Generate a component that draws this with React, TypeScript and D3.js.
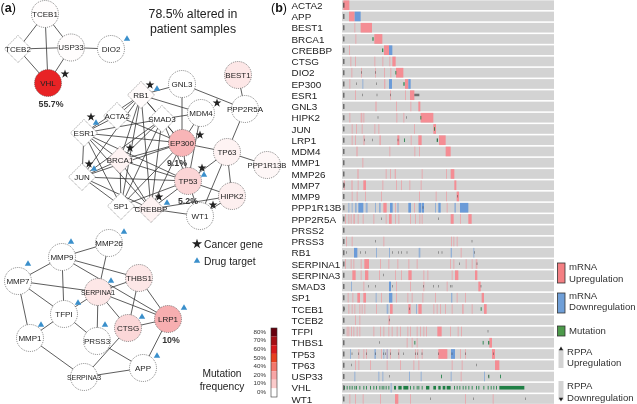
import * as d3 from "d3";
import { FC } from "react";

const WIDTH = 637;
const HEIGHT = 404;
const FONT = "'Liberation Sans', Arial, sans-serif";

// oncoprint
const genes = [
  "ACTA2", "APP", "BEST1", "BRCA1", "CREBBP", "CTSG", "DIO2", "EP300", "ESR1",
  "GNL3", "HIPK2", "JUN", "LRP1", "MDM4", "MMP1", "MMP26", "MMP7", "MMP9",
  "PPP1R13B", "PPP2R5A", "PRSS2", "PRSS3", "RB1", "SERPINA1", "SERPINA3",
  "SMAD3", "SP1", "TCEB1", "TCEB2", "TFPI", "THBS1", "TP53", "TP63", "USP33",
  "VHL", "WT1",
];

// sample positions: a number is a single sample, a pair is a run of samples
type Marks = Record<string, (number | [number, number])[]>;

const mrnaUp: Marks = {
  ACTA2: [[70, 88]],
  APP: [[87, 104]],
  BEST1: [103, [122, 156]],
  BRCA1: [106, [163, 187]],
  CREBBP: [[87, 90], [192, 207]],
  CTSG: [91, 105, 163, 187, 208, [217, 227]],
  DIO2: [94, 123, 165, 192, 211, [228, 250]],
  EP300: [88, [192, 196], [255, 265]],
  ESR1: [105, 210, 255, [270, 283]],
  GNL3: [[166, 170], 228, 271, [295, 301]],
  HIPK2: [88, [122, 127], 130, 229, 250, [302, 340]],
  JUN: [95, 108, 125, 163, 175, 282, [340, 348]],
  LRP1: [95, 105, [130, 134], [178, 183], [232, 238], 272, [295, 305], [357, 377]],
  MDM4: [[109, 113], 208, 283, 297, [377, 392]],
  MMP1: [127],
  MMP26: [[112, 116], 197, 210, [224, 228], 305, 378, [392, 403]],
  MMP7: [[71, 75], [94, 98], 113, [130, 138], 187, 228, 243, 268, 302, [403, 409]],
  MMP9: [95, 110, 135, 183, 297, 347, 378, [410, 417]],
  PPP1R13B: [[190, 200], 225, 282, 380],
  PPP2R5A: [75, 85, 92, [100, 105], 113, 128, 160, 197, [207, 215], 225, 235, 270, 285, 298, 305, [392, 401], 420, [445, 455]],
  PRSS3: [78, 95, 190, 393, 400, 410],
  RB1: [422],
  SERPINA1: [75, 92, 100, 122, [133, 147], 180, 205, 232, 265, 290, 390, 400, 437, 455, [467, 472]],
  SERPINA3: [[97, 107], 122, [135, 145], 177, 225, 243, [265, 275], 310, 322, 395, [405, 415], [465, 472]],
  SMAD3: [130, 228, 270, 310, 380, [475, 482]],
  SP1: [83, 97, [112, 120], [130, 138], 183, 228, 262, 275, 307, 345, 410, 435, [485, 492]],
  TCEB1: [85, 95, 103, 118, 125, 133, 168, [210, 218], [265, 272], [295, 305], 340, 350, 360, 375, 395, [426, 431], 455, [492, 500]],
  TCEB2: [105, 118, [205, 210]],
  TFPI: [80, 85, 93, 100, 110, 118, 160, 180, 190, 205, 215, 230, 240, 262, 270, 290, 300, 310, 318, [352, 365], 390, 413, 423],
  THBS1: [260, 275, 290, [508, 516]],
  TP53: [115, 130, 138, 183, 200, 210, 235, 285, 292, 305, [355, 382], 420, 435, [516, 525]],
  TP63: [105, 115, 150, 200, 240, 280, 295, 395, 425, [525, 538]],
  USP33: [422],
  WT1: [88, 105, 128, 180, [225, 235], 270, 435, 518],
};

const mrnaDown: Marks = {
  APP: [[104, 122]],
  CREBBP: [[207, 217]],
  EP300: [127, [207, 216], [265, 272]],
  PPP1R13B: [85, 95, [105, 110], [115, 130], [137, 143], 165, [177, 182], [210, 218], [232, 236], [265, 273], [296, 303], [305, 312], 345, [355, 362], [403, 408], [420, 445]],
  RB1: [[102, 112], 168, 207, [296, 301], [392, 396], 460],
  SMAD3: [93, [207, 213]],
  SP1: [167, [207, 217], [393, 397]],
  TCEB1: [[200, 205], 288],
  TP53: [90, [163, 168], 190, 200, [393, 405]],
  USP33: [103, 175, 187, 267, 302, 392, 492],
  VHL: [212],
};

const mutation: Marks = {
  BRCA1: [[157, 161]],
  CREBBP: [[186, 190]],
  DIO2: [226],
  EP300: [[250, 254]],
  HIPK2: [301],
  JUN: [342],
  LRP1: [252, [350, 354]],
  TCEB1: [482],
  THBS1: [283, 488, [504, 508]],
  USP33: [363, 505, 540],
  VHL: [
    72, 80, 88, 95, 103, 108, 118, 130, 138, 150, 160, 168, 178, 185, 190, 197,
    205, [222, 228], [235, 245], [250, 265], 270, 280, 290, 295, 305, [318, 328],
    [340, 348], [355, 362], [368, 376], [380, 392], 402, 410, 418, 428, 436, 445,
    455, 468, 475, 490, 503, 512, 520, 528, [538, 613],
  ],
};

const rppa: Marks = {
  DIO2: [123, 165],
  EP300: [109, 168],
  ESR1: [127, 170, 210, [283, 298]],
  HIPK2: [173, 258],
  LRP1: [132, 157, 233, 352],
  MMP7: [72],
  MMP9: [412],
  PPP1R13B: [308],
  PPP2R5A: [183, 355],
  PRSS3: [165, 455],
  RB1: [78, 120, 135, 217, 235, 243, 260, 355, 365, 462],
  SERPINA1: [418, 470],
  SERPINA3: [190],
  SMAD3: [145, 165, 217, 310, 340, 355, 390, 395, 482],
  TCEB1: [72, 268],
  TCEB2: [207],
  TFPI: [503],
  THBS1: [177],
  TP53: [95, 115, 138, 165, 190, 196, 210, 235, 250, 285, 292, 305, 355, 395, 435, 520],
  TP63: [93, 468],
  USP33: [208, 505],
  WT1: [330, 460, 615],
};

const sampleDomain: [number, number] = [66, 702];
const leadSample = 70;

// network
const mutationFreq: Record<string, number> = {
  VHL: 55.7, EP300: 9.1, TP53: 5.2, LRP1: 10, BEST1: 3, TP63: 1.5, PPP1R13B: 1,
  HIPK2: 2, BRCA1: 1.5, CREBBP: 1.5, THBS1: 3, SERPINA1: 3, CTSG: 5,
  TCEB1: 0.2, USP33: 0.2, RB1: 0.5,
};

const diamondGenes = ["TCEB2", "RB1", "ACTA2", "SMAD3", "ESR1", "BRCA1", "JUN", "SP1", "CREBBP"];

const nodeLayout: Record<string, [number, number]> = {
  TCEB1: [45, 14], TCEB2: [18, 49], USP33: [71, 47.5], DIO2: [111, 49], VHL: [48, 83],
  BEST1: [238, 75], GNL3: [182, 84], RB1: [141, 95], PPP2R5A: [245, 109], MDM4: [201, 113],
  ACTA2: [117, 116], SMAD3: [162, 119], ESR1: [84, 133], EP300: [182, 143], TP63: [227, 152],
  PPP1R13B: [267, 165], BRCA1: [120, 160], JUN: [82, 177], TP53: [188, 181], HIPK2: [232, 196],
  SP1: [121, 206], CREBBP: [151, 209], WT1: [200, 216],
  MMP26: [109, 243], MMP9: [62, 257], MMP7: [18, 281], THBS1: [139, 278], SERPINA1: [98, 292],
  TFPI: [64, 314], LRP1: [168, 319], CTSG: [128, 328], MMP1: [30, 338], PRSS3: [97, 341],
  APP: [143, 368], SERPINA3: [84, 377],
};

const edges: [string, string][] = [
  ["TCEB1", "TCEB2"], ["TCEB1", "USP33"], ["TCEB1", "VHL"], ["TCEB2", "USP33"], ["TCEB2", "VHL"],
  ["USP33", "VHL"], ["USP33", "DIO2"],
  ["BEST1", "PPP2R5A"], ["GNL3", "RB1"], ["GNL3", "PPP2R5A"], ["GNL3", "EP300"], ["RB1", "MDM4"],
  ["RB1", "SMAD3"], ["RB1", "ESR1"], ["RB1", "BRCA1"], ["RB1", "EP300"], ["RB1", "JUN"], ["RB1", "SP1"],
  ["RB1", "CREBBP"], ["MDM4", "SMAD3"], ["MDM4", "EP300"], ["MDM4", "TP53"], ["PPP2R5A", "TP63"],
  ["ACTA2", "ESR1"], ["ACTA2", "EP300"], ["ACTA2", "RB1"], ["SMAD3", "ESR1"], ["SMAD3", "JUN"], ["SMAD3", "SP1"],
  ["SMAD3", "EP300"], ["SMAD3", "TP53"], ["SMAD3", "BRCA1"], ["SMAD3", "CREBBP"], ["ESR1", "EP300"],
  ["ESR1", "TP53"], ["ESR1", "JUN"], ["ESR1", "BRCA1"], ["ESR1", "SP1"], ["ESR1", "CREBBP"],
  ["EP300", "TP63"], ["EP300", "TP53"], ["EP300", "BRCA1"], ["EP300", "JUN"], ["EP300", "SP1"],
  ["EP300", "CREBBP"], ["TP63", "TP53"], ["TP63", "PPP1R13B"], ["TP63", "HIPK2"], ["TP63", "WT1"],
  ["BRCA1", "JUN"], ["BRCA1", "SP1"], ["BRCA1", "CREBBP"], ["BRCA1", "TP53"], ["JUN", "TP53"],
  ["JUN", "SP1"], ["JUN", "CREBBP"], ["TP53", "HIPK2"], ["TP53", "SP1"], ["TP53", "CREBBP"],
  ["TP53", "WT1"], ["HIPK2", "CREBBP"], ["HIPK2", "WT1"], ["CREBBP", "WT1"], ["SP1", "CREBBP"],
  ["MMP26", "MMP9"], ["MMP26", "SERPINA1"], ["MMP9", "MMP7"], ["MMP9", "TFPI"], ["MMP9", "THBS1"],
  ["MMP9", "LRP1"], ["MMP7", "SERPINA1"], ["MMP7", "TFPI"], ["MMP7", "MMP1"], ["THBS1", "SERPINA1"],
  ["THBS1", "CTSG"], ["THBS1", "LRP1"], ["SERPINA1", "TFPI"], ["SERPINA1", "PRSS3"], ["SERPINA1", "CTSG"],
  ["SERPINA1", "LRP1"], ["TFPI", "MMP1"], ["TFPI", "PRSS3"], ["CTSG", "LRP1"], ["CTSG", "SERPINA3"],
  ["LRP1", "APP"], ["MMP1", "SERPINA3"], ["PRSS3", "APP"], ["SERPINA3", "APP"],
];

const cancerStars: [number, number][] = [
  [65, 74], [150, 85], [217, 103], [91, 117], [200, 135], [130, 148], [89, 164], [202, 168], [159, 197], [213, 205],
];
const drugTriangles: [number, number][] = [
  [127, 39], [157, 89], [96, 123], [94, 169], [204, 175], [167, 203], [124, 232], [71, 242], [28, 264],
  [111, 281], [78, 303], [41, 325], [105, 325], [142, 317], [184, 308], [157, 356],
];
const freqLabels: [string, number, number][] = [
  ["55.7%", 51, 104], ["9.1%", 177, 163], ["5.2%", 188, 201], ["10%", 171, 340],
];

const colorbarLabels = ["80%", "70%", "60%", "50%", "40%", "20%", "10%", "0%"];
const colorbarBands = ["#67000d", "#a50f15", "#d7191c", "#e8401f", "#f4776b", "#f8a5a5", "#fbcaca", "#ffffff"];

const nodeColor = d3
  .scaleLinear<string>()
  .domain([0, 10, 50, 60, 80])
  .range(["#ffffff", "#f7aeb0", "#ee2e2a", "#e41a22", "#67000d"]);

const diamondPath = d3.symbol(d3.symbolDiamond2, 465)() as string;
const starPath = d3.symbol(d3.symbolStar, 24)() as string;
const trianglePath = d3.symbol(d3.symbolTriangle, 18)() as string;

const xScale = d3.scaleLinear().domain(sampleDomain).range([342, 554]);
const yBand = d3.scaleBand<string>().domain(genes).range([-1.2, 405.4]).padding(0.14);

const COLORS = { up: "#f48d94", down: "#6b9bd8", mut: "#1f7f45", dark: "#3a3a3a", bar: "#d3d3d3" };

const GeneRow: FC<{ gene: string }> = ({ gene }) => {
  const y = yBand(gene) as number;
  const h = yBand.bandwidth();
  const drawMarks = (marks: Marks, fill: string, kind: string, thinOpacity: number, markH = h) =>
    (marks[gene] || []).map((m, i) => {
      const [a, b] = Array.isArray(m) ? m : [m, null];
      const x0 = xScale(a);
      const w = b === null ? 1 : xScale(b) - x0;
      const narrow = b === null || w < 2;
      return (
        <rect
          key={kind + i}
          x={x0}
          y={y + (h - markH) / 2}
          width={w}
          height={markH}
          fill={fill}
          opacity={narrow ? thinOpacity : 1}
        />
      );
    });
  return (
    <g>
      <text x={291.5} y={y + h / 2 + 3.6} fontSize={9.9} fill="#222">
        {gene}
      </text>
      <rect x={xScale(sampleDomain[0])} y={y} width={xScale(sampleDomain[1]) - xScale(sampleDomain[0])} height={h} fill={COLORS.bar} />
      {drawMarks(mrnaUp, COLORS.up, "u", 0.55)}
      {drawMarks(mrnaDown, COLORS.down, "d", 0.6)}
      {drawMarks(mutation, COLORS.mut, "m", 0.85, 3.6)}
      {(rppa[gene] || []).map((m, i) => {
        const [a, b] = Array.isArray(m) ? m : [m, m + 2];
        return <rect key={"r" + i} x={xScale(a)} y={y + h / 2 - 1.5} width={xScale(b) - xScale(a)} height={2.5} fill={COLORS.dark} opacity={0.65} />;
      })}
      <rect x={xScale(leadSample)} y={y + h / 2 - 2.5} width={1} height={5} fill={COLORS.dark} />
    </g>
  );
};

const Node: FC<{ gene: string }> = ({ gene }) => {
  const [x, y] = nodeLayout[gene];
  const fill = nodeColor(mutationFreq[gene] || 0);
  const fs = gene.startsWith("SERPINA") ? 6.9 : gene.length > 7 ? 7.7 : 8;
  return (
    <g transform={`translate(${x},${y})`}>
      {diamondGenes.includes(gene) ? (
        <path d={diamondPath} fill={fill} stroke="#666" strokeWidth={0.7} strokeDasharray="1 1" />
      ) : (
        <circle r={13.5} fill={fill} stroke="#555" strokeWidth={0.7} strokeDasharray="1 1" />
      )}
      <text textAnchor="middle" y={2.8} fontSize={fs} fill="#222">
        {gene}
      </text>
    </g>
  );
};

const App: FC = () => {
  const barTop = 328;
  const barStep = (397 - barTop) / colorbarBands.length;
  return (
    <svg
      width={WIDTH}
      height={HEIGHT}
      style={{ position: "absolute", left: 0, top: 0, fontFamily: FONT, background: "#fff", filter: "blur(0.35px)" }}
    >
      <text x={0.5} y={12} fontSize={12.5} fill="#111">
        (<tspan fontWeight="bold">a</tspan>)
      </text>
      <text x={271} y={12} fontSize={12.5} fill="#111">
        (<tspan fontWeight="bold">b</tspan>)
      </text>
      <text x={193} y={18} textAnchor="middle" fontSize={12.3} fill="#222">78.5% altered in</text>
      <text x={193} y={33} textAnchor="middle" fontSize={12.3} fill="#222">patient samples</text>

      {edges.map(([a, b]) => (
        <line
          key={a + b}
          x1={nodeLayout[a][0]}
          y1={nodeLayout[a][1]}
          x2={nodeLayout[b][0]}
          y2={nodeLayout[b][1]}
          stroke="#333"
          strokeWidth={0.8}
        />
      ))}
      {Object.keys(nodeLayout).map((g) => (
        <Node key={g} gene={g} />
      ))}
      {cancerStars.map(([x, y]) => (
        <path key={`${x}-${y}`} d={starPath} transform={`translate(${x},${y})`} fill="#222" />
      ))}
      {drugTriangles.map(([x, y]) => (
        <path key={`${x}-${y}`} d={trianglePath} transform={`translate(${x},${y})`} fill="#3a8fcb" />
      ))}
      {freqLabels.map(([t, x, y]) => (
        <text key={t} x={x} y={y + 3} textAnchor="middle" fontSize={8.8} fontWeight="bold" fill="#333">
          {t}
        </text>
      ))}

      <path d={d3.symbol(d3.symbolStar, 32)() as string} transform="translate(197,244)" fill="#222" />
      <text x={204} y={247.5} fontSize={10.3} fill="#222">Cancer gene</text>
      <path d={trianglePath} transform="translate(197,261)" fill="#3a8fcb" />
      <text x={204} y={264.5} fontSize={10.3} fill="#222">Drug target</text>

      <text x={222} y={377} textAnchor="middle" fontSize={10.2} fill="#222">Mutation</text>
      <text x={222} y={390} textAnchor="middle" fontSize={10.2} fill="#222">frequency</text>
      {colorbarBands.map((c, i) => (
        <rect key={c} x={271} y={barTop + i * barStep} width={6} height={barStep} fill={c} />
      ))}
      <rect x={271} y={barTop} width={6} height={397 - barTop} fill="none" stroke="#333" strokeWidth={0.6} />
      {colorbarLabels.map((t, i) => (
        <text key={t} x={266} y={331.7 + i * 8.6 + 2} textAnchor="end" fontSize={6.2} fill="#333">
          {t}
        </text>
      ))}

      {genes.map((g) => (
        <GeneRow key={g} gene={g} />
      ))}

      <rect x={557.5} y={263} width={7.5} height={20} fill="#f47f83" stroke="#333" strokeWidth={0.8} />
      <text x={569} y={270} fontSize={9.6} fill="#333">mRNA</text>
      <text x={569} y={281.5} fontSize={9.6} fill="#333">Upregulation</text>
      <rect x={557.5} y={293} width={7.5} height={20} fill="#6f9fd8" stroke="#333" strokeWidth={0.8} />
      <text x={569} y={299} fontSize={9.6} fill="#333">mRNA</text>
      <text x={569} y={310} fontSize={9.6} fill="#333">Downregulation</text>
      <rect x={557.5} y={326} width={7.5} height={10} fill="#4c9a4a" stroke="#333" strokeWidth={0.8} />
      <text x={569} y={334} fontSize={9.6} fill="#333">Mutation</text>

      <rect x={558.5} y={349} width={5} height={19} fill={COLORS.bar} />
      <path d={d3.symbol(d3.symbolTriangle, 8)() as string} transform="translate(561,349)" fill="#222" />
      <text x={567} y={354.5} fontSize={9.6} fill="#333">RPPA</text>
      <text x={567} y={366} fontSize={9.6} fill="#333">Upregulation</text>
      <rect x={558.5} y={381} width={5} height={19} fill={COLORS.bar} />
      <path d={d3.symbol(d3.symbolTriangle, 8)() as string} transform="translate(561,399) rotate(180)" fill="#222" />
      <text x={567} y={389} fontSize={9.6} fill="#333">RPPA</text>
      <text x={567} y={400.5} fontSize={9.6} fill="#333">Downregulation</text>
    </svg>
  );
};

export default App;
